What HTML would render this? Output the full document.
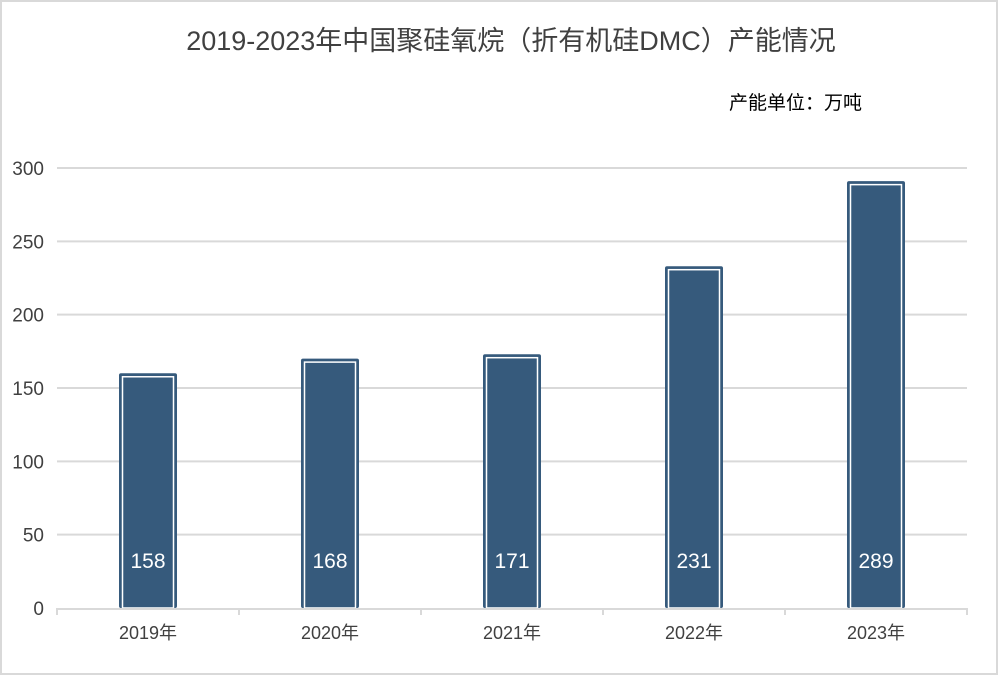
<!DOCTYPE html>
<html><head><meta charset="utf-8"><style>
body{margin:0;background:#fff;}
svg{display:block;font-family:"Liberation Sans","Noto Sans CJK SC",sans-serif;}
</style></head><body>
<svg width="1000" height="689" viewBox="0 0 1000 689">
<rect x="1" y="1" width="996" height="673" fill="#fff" stroke="#d9d9d9" stroke-width="2"/>
<text x="511" y="50" text-anchor="middle" font-size="27" fill="#404040">2019-2023年中国聚硅氧烷（折有机硅DMC）产能情况</text>
<text x="862" y="109" text-anchor="end" font-size="19" fill="#000">产能单位：万吨</text>
<g id="grid"></g>
<g id="yt"></g>
<g id="bars"></g>
<g id="xa"></g>
</svg>
<script>
const categories=["2019年","2020年","2021年","2022年","2023年"];
const values=[158,168,171,231,289];
const yTicks=[0,50,100,150,200,250,300];
const NS="http://www.w3.org/2000/svg";
const x0=57,x1=967,y0=608,y1=168,yMax=300;
const y=v=>y0-(v/yMax)*(y0-y1);
const band=(x1-x0)/categories.length;
const cx=i=>x0+band*(i+0.5);
function mk(t,a,p){const e=document.createElementNS(NS,t);for(const k in a)e.setAttribute(k,a[k]);p.appendChild(e);return e;}
const grid=document.getElementById('grid'),yt=document.getElementById('yt'),bars=document.getElementById('bars'),xa=document.getElementById('xa');
yTicks.forEach(v=>{
 if(v>0){const l=mk('line',{x1:x0,x2:x1,y1:y(v),y2:y(v),stroke:'#d9d9d9','stroke-width':2},grid);
 
 }
 const t=mk('text',{x:44,y:y(v)+7,'text-anchor':'end','font-size':19,fill:'#404040'},yt);t.textContent=v;
 
 
});
const bw=58;
values.forEach((v,i)=>{
 const g=mk('g',{},bars);
 
 
 const top=y(v)-3;
 mk('rect',{x:cx(i)-bw/2,y:top,width:bw,height:y0-top,fill:'#365a7c',rx:2},g);
 mk('rect',{x:cx(i)-bw/2+3.5,y:top+3.5,width:bw-7,height:y0-top-3.5,fill:'none',stroke:'#fff','stroke-width':1.5},g);
 const t=mk('text',{x:cx(i),y:568,'text-anchor':'middle','font-size':21,fill:'#fff'},g);t.textContent=v;
 
 
});
mk('line',{x1:x0,x2:x1,y1:y0+1,y2:y0+1,stroke:'#d9d9d9','stroke-width':2},xa);
for(let i=0;i<=categories.length;i++)mk('line',{x1:x0+band*i,x2:x0+band*i,y1:y0,y2:y0+7,stroke:'#d9d9d9','stroke-width':2},xa);
categories.forEach((c,i)=>{const t=mk('text',{x:cx(i),y:639,'text-anchor':'middle','font-size':18,fill:'#404040'},xa);t.textContent=c;
 
 });
</script>
</body></html>
